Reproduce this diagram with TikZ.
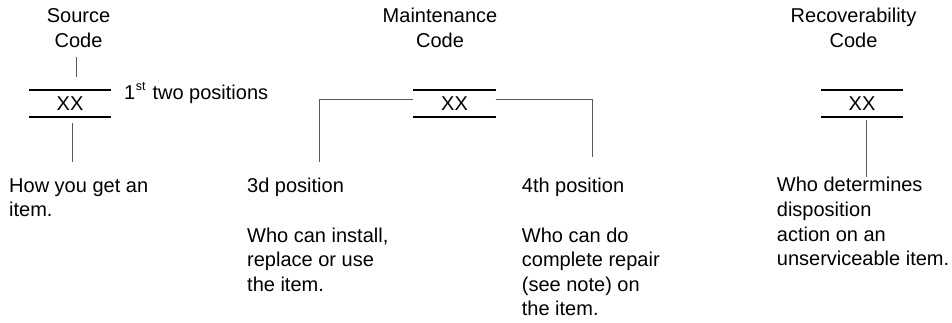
\documentclass[tikz,border=0pt]{standalone}
\usepackage{fontspec}
\setmainfont{Liberation Sans}
\begin{document}
\begin{tikzpicture}[x=1pt,y=-1pt,
  lbl/.style={inner sep=0pt,font=\fontsize{20}{24.6}\selectfont},
  title/.style={lbl,align=center,anchor=north},
  body/.style={lbl,align=left,anchor=north west},
  codebox/.style={lbl,minimum width=82pt,minimum height=27pt},
  boxline/.style={line width=1.8pt,black},
  conn/.style={line width=1pt,black!65}]
\useasboundingbox (0,0) rectangle (952,323);
% titles
\node[title] (st) at (78.5,8.3) {Source\\Code};
\node[title] (mt) at (440,8.3) {Maintenance\\Code};
\node[title] (rt) at (853.5,8.3) {Recoverability\\Code};
% code boxes
\node[codebox] (sc) at (70,103.5) {XX};
\node[codebox] (mc) at (454.5,103.5) {XX};
\node[codebox] (rc) at (862,103.5) {XX};
\foreach \b in {sc,mc,rc}{
  \draw[boxline] (\b.north west) -- (\b.north east);
  \draw[boxline] (\b.south west) -- (\b.south east);
}
\node[lbl,anchor=base west] (pos) at (124,99.3) {1\hspace{0.5pt}\raisebox{9pt}{\fontsize{12.5}{12.5}\selectfont st}\hspace{7pt}two positions};
% body texts
\node[body] (hs) at (9,178.3) {How you get an\\item.};
\node[body] (p3) at (247,178.3) {3d position\\[24.6pt]Who can install,\\replace or use\\the item.};
\node[body] (p4) at (521.7,178.3) {4th position\\[24.6pt]Who can do\\complete repair\\(see note) on\\the item.};
\node[body] (rd) at (776.7,177.3) {Who determines\\disposition\\action on an\\unserviceable item.};
% connectors
\coordinate (s1) at (76,57);
\coordinate (s2) at (76,77);
\draw[conn] (s1) -- (s2);
\coordinate (s3) at (72,123);
\coordinate (s4) at (72,162);
\draw[conn] (s3) -- (s4);
\coordinate (m1) at (319,100);
\coordinate (m2) at (319,162);
\draw[conn] (mc.west |- m1) -- (m1) -- (m2);
\coordinate (m3) at (592,100);
\coordinate (m4) at (592,157);
\draw[conn] (mc.east |- m3) -- (m3) -- (m4);
\coordinate (r1) at (866,120);
\coordinate (r2) at (866,177);
\draw[conn] (r1) -- (r2);
\end{tikzpicture}
\end{document}
